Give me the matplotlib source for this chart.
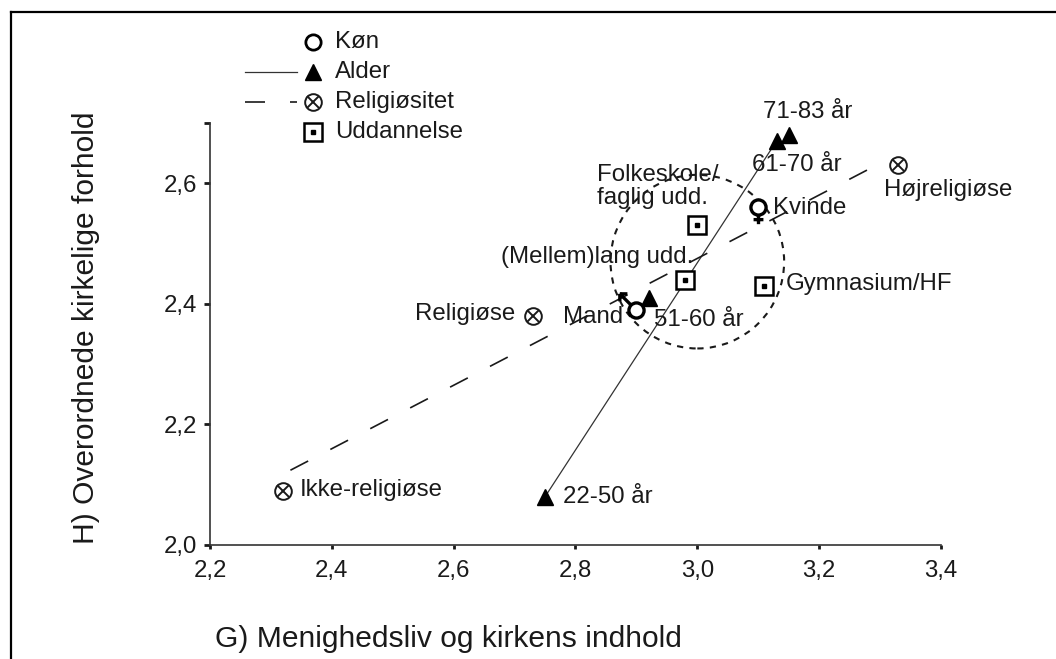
import matplotlib
matplotlib.use('Agg')
import matplotlib.pyplot as plt
import numpy as np
from matplotlib.path import Path
from matplotlib.patches import Ellipse
from matplotlib.lines import Line2D
from matplotlib.markers import MarkerStyle

plt.rcParams['font.family'] = ['Liberation Sans', 'DejaVu Sans']

# ---------------- data ----------------
gender_labels = ['Kvinde', 'Mand']
gender_x = [3.10, 2.90]
gender_y = [2.56, 2.39]

age_labels = ['22-50 år', '51-60 år', '61-70 år', '71-83 år']
age_x = [2.75, 2.92, 3.13, 3.15]
age_y = [2.08, 2.41, 2.67, 2.68]

rel_labels = ['Ikke-religiøse', 'Religiøse', 'Højreligiøse']
rel_x = [2.32, 2.73, 3.33]
rel_y = [2.09, 2.38, 2.63]

edu_labels = ['Folkeskole/\nfaglig udd.', '(Mellem)lang udd.', 'Gymnasium/HF']
edu_x = [3.00, 2.98, 3.11]
edu_y = [2.53, 2.44, 2.43]

legend_labels = ['Køn', 'Alder', 'Religiøsitet', 'Uddannelse']
x_ticks = [2.2, 2.4, 2.6, 2.8, 3.0, 3.2, 3.4]
y_ticks = [2.0, 2.2, 2.4, 2.6]
x_label = 'G) Menighedsliv og kirkens indhold'
y_label = 'H) Overordnede kirkelige forhold'

# ---------------- style ----------------
W, H = 1056, 659
FS = 17.3
FS_AX = 21.6
INK = '#1a1a1a'

def fx(px):
    return px / W

def fy(py):
    return 1 - py / H

fig = plt.figure(figsize=(W / 100, H / 100), dpi=100)
fig.patch.set_facecolor('white')
ax = fig.add_axes([fx(210), fy(545), 731 / W, 422 / H])
ax.set_facecolor('none')

# frame lines (top and left)
fig.add_artist(Line2D([fx(11), 1.0], [fy(12), fy(12)], color='black', lw=1.6))
fig.add_artist(Line2D([fx(11), fx(11)], [0.0, fy(12)], color='black', lw=1.6))

ax.set_xlim(2.2, 3.4)
ax.set_ylim(2.0, 2.7)
for s in ['top', 'right']:
    ax.spines[s].set_visible(False)
for s in ['left', 'bottom']:
    ax.spines[s].set_color('#333333')
    ax.spines[s].set_linewidth(1.2)

fmt = lambda v: f'{v:.1f}'.replace('.', ',')
ax.set_xticks(x_ticks)
ax.set_xticklabels([fmt(v) for v in x_ticks])
ax.set_yticks(y_ticks + [2.7])
ax.set_yticklabels([fmt(v) for v in y_ticks] + [''])
ax.tick_params(axis='x', length=3, width=2, pad=8, labelsize=FS, colors='#1a1a1a')
ax.tick_params(axis='y', length=4, width=2, pad=5, labelsize=FS, colors='#1a1a1a')

fig.text(fx(215), fy(639), x_label, ha='left', va='center', fontsize=FS_AX, color=INK)
fig.text(fx(86), fy(328), y_label, ha='center', va='center', rotation=90,
         fontsize=FS_AX, color=INK)

# ---------------- custom gender markers ----------------
M, L = Path.MOVETO, Path.LINETO
circ = Path.circle((0, 0), 1.0)
female = Path.make_compound_path(
    circ,
    Path([(0, -1.0), (0, -2.2)], [M, L]),
    Path([(-0.65, -1.6), (0.65, -1.6)], [M, L]))
male = Path.make_compound_path(
    circ,
    Path([(-0.707, 0.707), (-2.2, 2.2)], [M, L]),
    Path([(-2.2, 2.2), (-1.2, 2.2)], [M, L]),
    Path([(-2.2, 2.2), (-2.2, 1.2)], [M, L]))

# ---------------- lines ----------------
ax.plot([age_x[0], age_x[2]], [age_y[0], age_y[2]], color='#333333', lw=0.9,
        zorder=2, clip_on=False)

coef = np.polyfit(rel_x, rel_y, 1)
xs = np.array([min(rel_x) + 0.012, max(rel_x) - 0.035])
ax.plot(xs, np.polyval(coef, xs), color=INK, lw=1.2, ls=(0, (12, 15)),
        zorder=2, clip_on=False)

ax.add_patch(Ellipse((3.0, 2.47), width=0.285, height=0.288, fill=False,
                     ls=(0, (3, 3)), lw=1.5, ec=INK, zorder=1))

# ---------------- markers ----------------
ax.plot(rel_x, rel_y, 'o', ms=12, mfc='white', mec=INK, mew=1.4, ls='none',
        zorder=4, clip_on=False)
ax.plot(rel_x, rel_y, 'x', ms=8.4, mec=INK, mew=1.4, ls='none', zorder=5,
        clip_on=False)

ax.plot(age_x, age_y, '^', ms=12, color='black', ls='none', zorder=4, clip_on=False)

ax.plot(edu_x, edu_y, 's', ms=12.5, mfc='white', mec='black', mew=1.8,
        ls='none', zorder=4, clip_on=False)
ax.plot(edu_x, edu_y, 's', ms=3.5, color='black', ls='none', zorder=5,
        clip_on=False)

ax.plot([gender_x[0]], [gender_y[0]], marker=MarkerStyle(female), ms=24,
        mfc='white', mec='black', mew=2.4, ls='none', zorder=5, clip_on=False)
ax.plot([gender_x[1]], [gender_y[1]], marker=MarkerStyle(male), ms=24,
        mfc='white', mec='black', mew=2.4, ls='none', zorder=5, clip_on=False)

# ---------------- labels ----------------
def lab(text, x, y, dx, dy, ha='left'):
    ax.annotate(text, (x, y), xytext=(dx, dy), textcoords='offset pixels',
                ha=ha, va='center', fontsize=FS, color=INK, zorder=6,
                linespacing=1.1, annotation_clip=False)

g_off = [(15, -1, 'left'), (-13, -7, 'right')]
a_off = [(18, 0, 'left'), (5, -22, 'left'), (-25, -24, 'left'), (-26, 23, 'left')]
r_off = [(17, 1, 'left'), (-18, 2, 'right'), (-14, -25, 'left')]
e_off = [(-100, 39, 'left'), (8, 23, 'right'), (21, 2, 'left')]

for labels, xv, yv, offs in [(gender_labels, gender_x, gender_y, g_off),
                             (age_labels, age_x, age_y, a_off),
                             (rel_labels, rel_x, rel_y, r_off),
                             (edu_labels, edu_x, edu_y, e_off)]:
    for t, x, y, (dx, dy, ha) in zip(labels, xv, yv, offs):
        lab(t, x, y, dx, dy, ha)

# ---------------- legend (manual) ----------------
rows = [42, 72, 102, 132]
mx, tx, l0, l1 = 313, 335, 245, 297

def fl(*args, **kw):
    fig.add_artist(Line2D(*args, **kw))

fl([fx(mx)], [fy(rows[0])], marker='o', ms=11, mfc='white', mec='black', mew=2, ls='none')
fl([fx(l0), fx(l1)], [fy(rows[1])] * 2, color='#333333', lw=0.9)
fl([fx(mx)], [fy(rows[1])], marker='^', ms=12, color='black', ls='none')
fl([fx(l0), fx(l1)], [fy(rows[2])] * 2, color=INK, lw=1.2, ls=(0, (12, 15)))
fl([fx(mx)], [fy(rows[2])], marker='o', ms=12, mfc='white', mec=INK, mew=1.4, ls='none')
fl([fx(mx)], [fy(rows[2])], marker='x', ms=8.4, mec=INK, mew=1.4, ls='none')
fl([fx(mx)], [fy(rows[3])], marker='s', ms=12.5, mfc='white', mec='black', mew=1.8, ls='none')
fl([fx(mx)], [fy(rows[3])], marker='s', ms=3.5, color='black', ls='none')

for t, r in zip(legend_labels, rows):
    fig.text(fx(tx), fy(r), t, ha='left', va='center', fontsize=FS, color=INK)

fig.savefig('out.png', dpi=100, facecolor='white')
